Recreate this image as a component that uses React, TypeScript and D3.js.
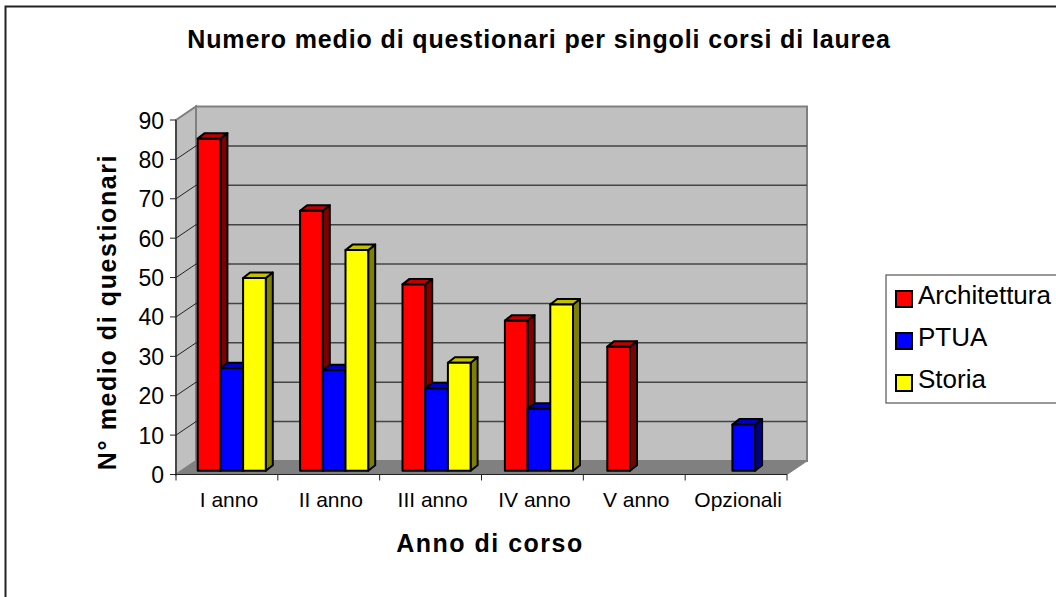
import React from "react";
import * as d3 from "d3";

const categories = ["I anno", "II anno", "III anno", "IV anno", "V anno", "Opzionali"];
const seriesNames = ["Architettura", "PTUA", "Storia"];
const architettura: (number | null)[] = [84.3, 66, 47.3, 38.1, 31.5, null];
const ptua: (number | null)[] = [26, 25.5, 20.9, 15.7, null, 11.7];
const storia: (number | null)[] = [48.9, 56, 27.4, 42.2, null, null];
const seriesValues = [architettura, ptua, storia];
const yTicks = [0, 10, 20, 30, 40, 50, 60, 70, 80, 90];
const front = ["#ff0000", "#0000ff", "#ffff00"];
const topC = ["#c00000", "#0000c0", "#c0c000"];
const side = ["#800000", "#000080", "#808000"];

const FONT = "'Liberation Sans', Arial, sans-serif";
const DX = 20, DY = 13.5;
const BX = 7, BY = 5.5;

export default function App() {
  const x = d3.scaleBand<string>().domain(categories).range([176, 787]);
  const y = d3.scaleLinear().domain([0, 90]).range([474.5, 120]);
  const barY = d3.scaleLinear().domain([0, 90]).range([470.7, 116.2]);
  const groupX = d3.scaleLinear().domain([0, 5]).range([197.7, 709.7]);
  const barW = 22.7;
  const floorY = y(0);
  const topY = y(90);
  const grid = "#444444";
  const wallEdge = "#808080";
  return (
    <svg width={1056} height={597} style={{ position: "absolute", left: 0, top: 0, fontFamily: FONT }}>
      <rect x={0} y={0} width={1056} height={597} fill="#fff" />
      <path d="M5.5,597L5.5,6.5L1056,6.5" fill="none" stroke="#222" strokeWidth={2} />
      <text x={539} y={47.5} textAnchor="middle" fontSize={25} fontWeight="bold" letterSpacing={0.87}>
        Numero medio di questionari per singoli corsi di laurea
      </text>

      {/* back wall */}
      <rect x={176 + DX} y={topY - DY} width={611} height={floorY - topY} fill="#c0c0c0" stroke={wallEdge} strokeWidth={2} />
      {/* side wall */}
      <path d={`M176,${floorY}L176,${topY}L${176 + DX},${topY - DY}L${176 + DX},${floorY - DY}Z`} fill="#c0c0c0" stroke={wallEdge} strokeWidth={2} />
      {/* floor */}
      <path d={`M176,${floorY}L${176 + DX},${floorY - DY}L${787 + DX},${floorY - DY}L787,${floorY}Z`} fill="#808080" stroke="#808080" strokeWidth={1} />
      {/* gridlines */}
      {yTicks.slice(1, -1).map((t) => (
        <g key={t} stroke={grid} strokeWidth={1.5} fill="none">
          <path d={`M${176 + DX},${y(t) - DY}L${787 + DX},${y(t) - DY}`} />
          <path d={`M176,${y(t)}L${176 + DX},${y(t) - DY}`} stroke="#222" strokeWidth={1} />
        </g>
      ))}
      {/* axes */}
      <path d={`M176,${topY}L176,${floorY}L787,${floorY}`} fill="none" stroke="#222" strokeWidth={1.2} />
      {yTicks.map((t) => (
        <g key={t}>
          <line x1={170} x2={176} y1={y(t)} y2={y(t)} stroke="#222" />
          <text x={164} y={y(t) + 8.5} textAnchor="end" fontSize={23}>{t}</text>
        </g>
      ))}
      {categories.map((c, i) => (
        <g key={c}>
          <line x1={x(c)!} x2={x(c)!} y1={floorY} y2={floorY + 6} stroke="#222" />
          <text x={x(c)! + x.bandwidth() / 2 + 2} y={507} textAnchor="middle" fontSize={21}>{c}</text>
          {i === categories.length - 1 && <line x1={787} x2={787} y1={floorY} y2={floorY + 6} stroke="#222" />}
        </g>
      ))}
      {/* bars */}
      {categories.map((c, i) =>
        [0, 1, 2].map((s) => {
          const v = seriesValues[s][i];
          if (v == null) return null;
          const x0 = groupX(i) + s * barW;
          const x1 = x0 + barW;
          const y0 = barY(0);
          const y1 = barY(v);
          return (
            <g key={c + s} stroke="#000" strokeWidth={2} strokeLinejoin="round">
              <path d={`M${x1},${y0}L${x1 + BX},${y0 - BY}L${x1 + BX},${y1 - BY}L${x1},${y1}Z`} fill={side[s]} />
              <path d={`M${x0},${y1}L${x0 + BX},${y1 - BY}L${x1 + BX},${y1 - BY}L${x1},${y1}Z`} fill={topC[s]} />
              <rect x={x0} y={y1} width={barW} height={y0 - y1} fill={front[s]} />
            </g>
          );
        })
      )}
      <text x={490} y={552} textAnchor="middle" fontSize={25} fontWeight="bold" letterSpacing={1.5}>Anno di corso</text>
      <text transform="translate(116,312) rotate(-90)" textAnchor="middle" fontSize={25} fontWeight="bold" letterSpacing={1.6}>N° medio di questionari</text>

      {/* legend */}
      <rect x={886} y={275} width={190} height={128} fill="#fff" stroke="#555" strokeWidth={1.2} />
      {seriesNames.map((n, i) => (
        <g key={n}>
          <rect x={896} y={291 + i * 42} width={16} height={16} fill={front[i]} stroke="#000" strokeWidth={2} />
          <text x={918} y={304 + i * 42} fontSize={26}>{n}</text>
        </g>
      ))}
    </svg>
  );
}
